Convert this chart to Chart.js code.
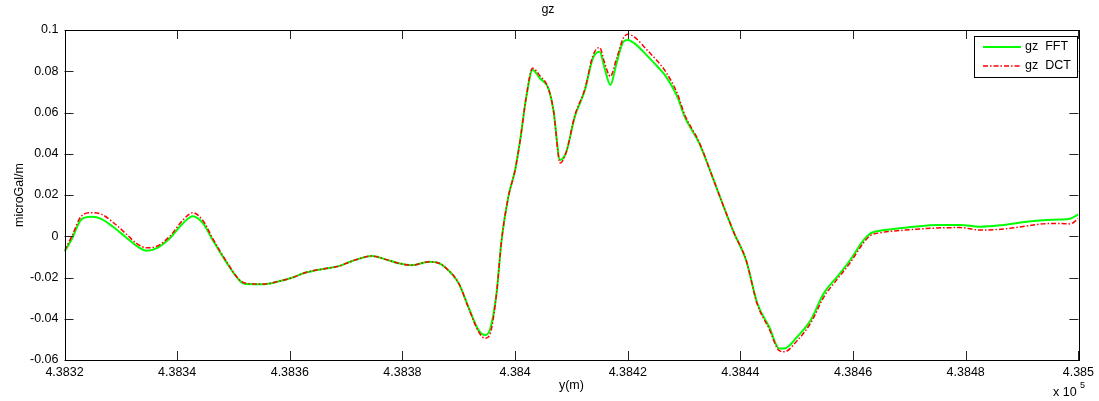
<!DOCTYPE html>
<html>
<head>
<meta charset="utf-8">
<script src="https://cdn.jsdelivr.net/npm/chart.js@4.4.1/dist/chart.umd.min.js"></script>
<style>
  html, body { margin:0; padding:0; background:#fff; }
</style>
</head>
<body>
<canvas id="chart-gz" width="1099" height="401"></canvas>
<script>
// y position (m) along the profile
const yPos = [
  438320.0, 438321.3, 438323.0, 438324.8, 438326.6, 438328.6, 438331.0, 438332.8, 438334.6, 438336.3,
  438338.7, 438341.0, 438342.8, 438344.6, 438346.3, 438348.7, 438351.0, 438352.2, 438355.2, 438358.1,
  438360.5, 438362.8, 438366.4, 438368.7, 438371.1, 438374.6, 438377.0, 438379.3, 438381.7, 438384.7,
  438386.5, 438387.6, 438390.0, 438391.7, 438393.5, 438394.7, 438395.6, 438396.7, 438397.6, 438398.8,
  438400.0, 438400.9, 438402.0, 438403.1, 438404.4, 438405.9, 438406.8, 438408.0, 438409.1, 438410.6,
  438412.4, 438413.8, 438415.0, 438415.9, 438416.9, 438418.0, 438419.2, 438420.0, 438421.2, 438423.6,
  438425.3, 438426.8, 438428.8, 438430.1, 438432.7, 438434.8, 438436.8, 438438.9, 438441.0, 438443.0,
  438445.1, 438446.9, 438447.8, 438450.1, 438452.5, 438454.8, 438457.2, 438459.5, 438461.9, 438463.1,
  438464.8, 438467.2, 438470.8, 438474.9, 438479.0, 438482.5, 438486.7, 438490.8, 438493.7, 438496.7,
  438498.5, 438500.0
];
const gzFFT = [
  -0.0075, -0.0014, 0.0082, 0.0094, 0.0083, 0.0046, -0.0007, -0.0047, -0.0070, -0.0059,
  -0.0010, 0.0062, 0.0097, 0.0062, -0.0018, -0.0124, -0.0212, -0.0232, -0.0233, -0.0218,
  -0.0200, -0.0176, -0.0156, -0.0145, -0.0120, -0.0096, -0.0112, -0.0131, -0.0140, -0.0124,
  -0.0131, -0.0151, -0.0229, -0.0342, -0.0455, -0.0479, -0.0447, -0.0277, -0.0019, 0.0191,
  0.0321, 0.0466, 0.0677, 0.0806, 0.0766, 0.0717, 0.0612, 0.0370, 0.0410, 0.0580,
  0.0709, 0.0863, 0.0895, 0.0814, 0.0733, 0.0838, 0.0943, 0.0952, 0.0935, 0.0871,
  0.0822, 0.0774, 0.0677, 0.0580, 0.0450, 0.0305, 0.0160, 0.0014, -0.0115, -0.0325,
  -0.0439, -0.0544, -0.0544, -0.0487, -0.0406, -0.0277, -0.0196, -0.0115, -0.0018, 0.0014,
  0.0027, 0.0035, 0.0046, 0.0055, 0.0055, 0.0046, 0.0055, 0.0070, 0.0078, 0.0081,
  0.0085, 0.0106
];
const gzDCT = [
  -0.0070, 0.0000, 0.0098, 0.0114, 0.0106, 0.0068, 0.0010, -0.0035, -0.0056, -0.0050,
  0.0000, 0.0078, 0.0114, 0.0075, -0.0010, -0.0120, -0.0210, -0.0228, -0.0232, -0.0218,
  -0.0200, -0.0176, -0.0156, -0.0145, -0.0120, -0.0096, -0.0112, -0.0131, -0.0140, -0.0124,
  -0.0131, -0.0151, -0.0229, -0.0345, -0.0462, -0.0495, -0.0470, -0.0280, -0.0019, 0.0191,
  0.0321, 0.0466, 0.0680, 0.0815, 0.0778, 0.0717, 0.0612, 0.0355, 0.0410, 0.0585,
  0.0715, 0.0875, 0.0915, 0.0840, 0.0775, 0.0860, 0.0960, 0.0980, 0.0965, 0.0898,
  0.0848, 0.0795, 0.0692, 0.0590, 0.0455, 0.0305, 0.0160, 0.0014, -0.0115, -0.0330,
  -0.0448, -0.0555, -0.0560, -0.0505, -0.0420, -0.0295, -0.0208, -0.0128, -0.0030, 0.0004,
  0.0017, 0.0025, 0.0033, 0.0040, 0.0042, 0.0030, 0.0035, 0.0050, 0.0060, 0.0062,
  0.0060, 0.0085
];
const seriesNames = ['gz  FFT', 'gz  DCT'];
const xRange = [438320, 438500], xStep = 20;
const yRange = [-0.06, 0.1], yStep = 0.02;

const green = '#00FF00';
const red   = '#FF0000';
const ink   = '#000000';
const font  = '"Liberation Sans", Arial, sans-serif';
const dashDot = [5, 2, 1.5, 2];

// MATLAB-like axes box, inward ticks on all sides, labels and legend
const matlabAxes = {
  id: 'matlabAxes',
  afterDatasetsDraw(chart) {
    const { ctx, chartArea: a, scales: { x, y } } = chart;
    ctx.save();
    ctx.strokeStyle = '#262626';
    ctx.lineWidth = 1;
    const tl = 9;
    x.ticks.forEach(t => {
      const px = Math.round(x.getPixelForValue(t.value)) + 0.5;
      ctx.beginPath();
      ctx.moveTo(px, a.bottom); ctx.lineTo(px, a.bottom - tl);
      ctx.moveTo(px, a.top); ctx.lineTo(px, a.top + tl);
      ctx.stroke();
    });
    y.ticks.forEach(t => {
      const py = Math.round(y.getPixelForValue(t.value)) + 0.5;
      ctx.beginPath();
      ctx.moveTo(a.left, py); ctx.lineTo(a.left + tl, py);
      ctx.moveTo(a.right, py); ctx.lineTo(a.right - tl, py);
      ctx.stroke();
    });
    ctx.strokeStyle = ink;
    ctx.strokeRect(Math.round(a.left) + 0.5, Math.round(a.top) + 0.5,
                   Math.round(a.right - a.left), Math.round(a.bottom - a.top));

    // texts
    ctx.fillStyle = ink;
    ctx.font = '12.5px ' + font;
    ctx.textAlign = 'center'; ctx.textBaseline = 'middle';
    ctx.fillText('gz', 548, 10);
    ctx.fillText('y(m)', (a.left + a.right) / 2, 386);
    ctx.textAlign = 'left';
    ctx.fillText('x 10', 1053, 393);
    ctx.font = '9px ' + font;
    ctx.fillText('5', 1080, 386);
    ctx.save();
    ctx.font = '12.5px ' + font;
    ctx.translate(20, (a.top + a.bottom) / 2);
    ctx.rotate(-Math.PI / 2);
    ctx.textAlign = 'center';
    ctx.fillText('microGal/m', 0, 0);
    ctx.restore();

    // legend
    const lx = 974, ly = 36, lw = 103, lh = 41;
    ctx.fillStyle = '#fff';
    ctx.fillRect(lx, ly, lw, lh);
    ctx.strokeStyle = ink;
    ctx.strokeRect(lx + 0.5, ly + 0.5, lw, lh);
    const rows = [
      { name: seriesNames[0], color: green, width: 2, dash: [] },
      { name: seriesNames[1], color: red, width: 1.5, dash: dashDot }
    ];
    rows.forEach((r, i) => {
      const ry = ly + 11 + i * 19;
      ctx.beginPath();
      ctx.strokeStyle = r.color; ctx.lineWidth = r.width; ctx.setLineDash(r.dash);
      ctx.moveTo(983, ry); ctx.lineTo(1021, ry);
      ctx.stroke();
      ctx.setLineDash([]);
      ctx.fillStyle = ink;
      ctx.font = '12.5px ' + font;
      ctx.textAlign = 'left';
      ctx.fillText(r.name, 1025, ry);
    });
    ctx.restore();
  }
};

new Chart(document.getElementById('chart-gz'), {
  type: 'scatter',
  data: {
    datasets: [
      {
        label: seriesNames[1],
        data: yPos.map((v, i) => ({ x: v, y: gzDCT[i] })),
        showLine: true, borderColor: red, borderWidth: 1.5, borderDash: dashDot,
        pointRadius: 0, cubicInterpolationMode: 'monotone', fill: false
      },
      {
        label: seriesNames[0],
        data: yPos.map((v, i) => ({ x: v, y: gzFFT[i] })),
        showLine: true, borderColor: green, borderWidth: 2,
        pointRadius: 0, cubicInterpolationMode: 'monotone', fill: false
      }
    ]
  },
  options: {
    responsive: false, animation: false, devicePixelRatio: 1,
    layout: { padding: { left: 0, right: 17, top: 30, bottom: 0 } },
    plugins: { legend: { display: false }, tooltip: { enabled: false }, title: { display: false } },
    scales: {
      x: {
        type: 'linear', min: xRange[0], max: xRange[1],
        grid: { display: false, drawTicks: false }, border: { display: false },
        ticks: { stepSize: xStep, maxRotation: 0, autoSkip: false, padding: 5, color: ink,
                 font: { size: 12.5, family: font },
                 callback: v => String(parseFloat((v / 1e5).toFixed(5))) },
        afterFit: s => { s.height = 41; }
      },
      y: {
        min: yRange[0], max: yRange[1],
        grid: { display: false, drawTicks: false }, border: { display: false },
        ticks: { stepSize: yStep, padding: 6, color: ink,
                 font: { size: 12.5, family: font },
                 callback: v => String(parseFloat(v.toFixed(2))) },
        afterFit: s => { s.width = 64.5; }
      }
    }
  },
  plugins: [matlabAxes]
});
</script>
</body>
</html>
